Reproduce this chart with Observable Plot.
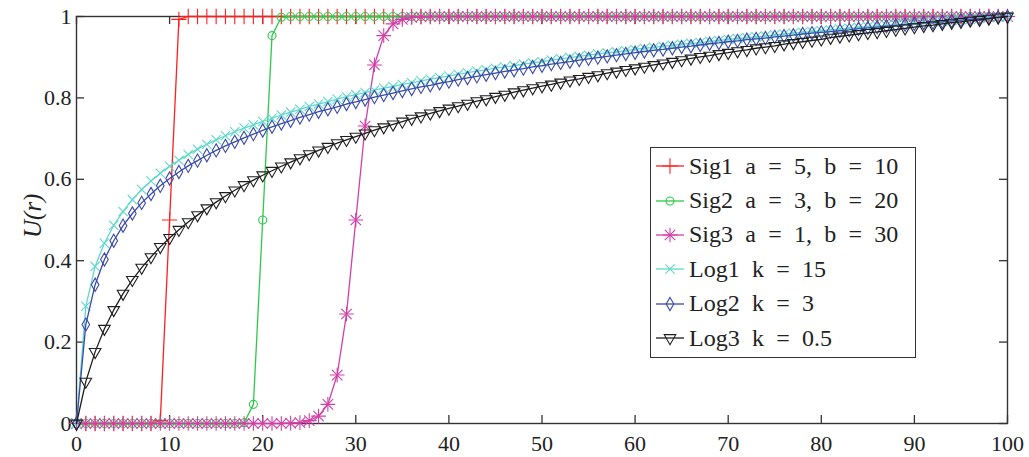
<!DOCTYPE html>
<html><head><meta charset="utf-8">
<script src="https://cdn.jsdelivr.net/npm/d3@7"></script>
<script src="https://cdn.jsdelivr.net/npm/@observablehq/plot@0.6"></script>
<style>
html,body{margin:0;padding:0;background:#fff;}
#wrap{position:relative;width:1029px;height:457px;overflow:hidden;background:#fff;}
#legend{position:absolute;left:650px;top:147px;width:266px;height:211px;border:1.5px solid #333;background:#fff;
  font-family:"Liberation Serif","Times New Roman",Times,serif;font-size:24px;color:#222;box-sizing:border-box;padding-top:1px;}
.row{display:flex;align-items:center;height:34.4px;}
.row svg{flex:none;display:block;}
.row span{white-space:pre;word-spacing:0.26em;margin-left:2px;}
</style></head>
<body><div id="wrap"></div>
<script>
const r = [0,1,2,3,4,5,6,7,8,9,10,11,12,13,14,15,16,17,18,19,20,21,22,23,24,25,26,27,28,29,30,31,32,33,34,35,36,37,38,39,40,41,42,43,44,45,46,47,48,49,50,51,52,53,54,55,56,57,58,59,60,61,62,63,64,65,66,67,68,69,70,71,72,73,74,75,76,77,78,79,80,81,82,83,84,85,86,87,88,89,90,91,92,93,94,95,96,97,98,99,100];
const sig1 = [0,0,0,0,0,0,0,0,0,0.007,
  0.5,0.993,1,1,1,1,1,1,1,1,
  1,1,1,1,1,1,1,1,1,1, 1,1,1,1,1,1,1,1,1,1, 1,1,1,1,1,1,1,1,1,1, 1,1,1,1,1,1,1,1,1,1,
  1,1,1,1,1,1,1,1,1,1, 1,1,1,1,1,1,1,1,1,1, 1,1,1,1,1,1,1,1,1,1, 1,1,1,1,1,1,1,1,1,1, 1];
const sig2 = [0,0,0,0,0,0,0,0,0,0,
  0,0,0,0,0,0,0,0,0.002,0.047,
  0.5,0.953,0.998,1,1,1,1,1,1,1,
  1,1,1,1,1,1,1,1,1,1, 1,1,1,1,1,1,1,1,1,1, 1,1,1,1,1,1,1,1,1,1, 1,1,1,1,1,1,1,1,1,1,
  1,1,1,1,1,1,1,1,1,1, 1,1,1,1,1,1,1,1,1,1, 1,1,1,1,1,1,1,1,1,1, 1];
const sig3 = [0,0,0,0,0,0,0,0,0,0,
  0,0,0,0,0,0,0,0,0,0,
  0,0,0,0.001,0.002,0.007,0.018,0.047,0.119,0.269,
  0.5,0.731,0.881,0.953,0.982,0.993,0.998,0.999,1,1,
  1,1,1,1,1,1,1,1,1,1, 1,1,1,1,1,1,1,1,1,1, 1,1,1,1,1,1,1,1,1,1,
  1,1,1,1,1,1,1,1,1,1, 1,1,1,1,1,1,1,1,1,1, 1,1,1,1,1,1,1,1,1,1, 1];
const log1 = [0,0.288,0.386,0.443,0.487,0.521,0.550,0.575,0.596,0.615,
  0.632,0.647,0.661,0.674,0.686,0.697,0.707,0.717,0.726,0.734,
  0.742,0.750,0.758,0.765,0.772,0.779,0.785,0.791,0.797,0.803,
  0.808,0.813,0.819,0.824,0.828,0.833,0.837,0.842,0.846,0.850,
  0.854,0.858,0.862,0.866,0.869,0.873,0.876,0.879,0.883,0.886,
  0.889,0.893,0.896,0.899,0.902,0.905,0.908,0.911,0.913,0.916,
  0.919,0.922,0.924,0.927,0.929,0.932,0.934,0.936,0.939,0.941,
  0.944,0.946,0.948,0.950,0.952,0.955,0.957,0.959,0.961,0.963,
  0.965,0.967,0.969,0.971,0.973,0.975,0.977,0.978,0.980,0.982,
  0.984,0.985,0.987,0.988,0.990,0.992,0.993,0.995,0.997,0.998,1];
const log2 = [0,0.243,0.341,0.403,0.449,0.486,0.516,0.542,0.564,0.584,
  0.602,0.618,0.633,0.646,0.659,0.671,0.682,0.692,0.702,0.711,
  0.720,0.729,0.737,0.744,0.752,0.759,0.766,0.772,0.778,0.785,
  0.790,0.796,0.802,0.807,0.812,0.817,0.822,0.827,0.831,0.836,
  0.840,0.845,0.849,0.853,0.857,0.861,0.865,0.868,0.872,0.876,
  0.879,0.883,0.886,0.889,0.893,0.896,0.899,0.902,0.905,0.908,
  0.911,0.914,0.917,0.919,0.922,0.925,0.927,0.930,0.933,0.935,
  0.938,0.940,0.943,0.945,0.947,0.950,0.952,0.954,0.957,0.959,
  0.961,0.963,0.965,0.967,0.970,0.972,0.974,0.976,0.978,0.980,
  0.982,0.984,0.985,0.987,0.989,0.991,0.993,0.995,0.996,0.998,1];
const log3 = [0,0.103,0.176,0.233,0.279,0.319,0.353,0.383,0.409,0.434,
  0.456,0.476,0.495,0.512,0.529,0.544,0.559,0.573,0.586,0.598,
  0.610,0.621,0.632,0.642,0.652,0.662,0.671,0.680,0.689,0.697,
  0.705,0.713,0.721,0.728,0.735,0.742,0.749,0.755,0.762,0.768,
  0.774,0.780,0.786,0.792,0.797,0.803,0.808,0.814,0.819,0.824,
  0.829,0.833,0.838,0.843,0.847,0.852,0.856,0.861,0.865,0.869,
  0.873,0.877,0.881,0.885,0.889,0.893,0.897,0.901,0.904,0.908,
  0.911,0.915,0.918,0.922,0.925,0.928,0.932,0.935,0.938,0.941,
  0.944,0.948,0.951,0.954,0.957,0.960,0.962,0.965,0.968,0.971,
  0.974,0.977,0.979,0.982,0.985,0.987,0.990,0.992,0.995,0.998,1];

const names = ["Sig1 a = 5, b = 10","Sig2 a = 3, b = 20","Sig3 a = 1, b = 30","Log1 k = 15","Log2 k = 3","Log3 k = 0.5"];
const colors = ["#ff1f1f","#2ec94a","#d23ea8","#5fd8cb","#3a4aa8","#1e1e1e"];
const xTicks = [0,10,20,30,40,50,60,70,80,90,100];
const yTicks = [0,0.2,0.4,0.6,0.8,1];
const yLabel = "U(r)";

const series = [sig1, sig2, sig3, log1, log2, log3];
const symbols = [["plus"],["circle"],["plus","times"],["times"],["diamond"],["triangle"]];
const radii = [5, 4, 4.8, 4.3, 4, 4.3];
const rot = [0,0,0,0,0,180];

const W = 1029, H = 457, mL = 76, mR = 22, mT = 16, mB = 34;
const pw = W - mL - mR, ph = H - mT - mB, tk = 8;
const serif = "'Liberation Serif', 'Times New Roman', Times, serif";

const marks = [
  Plot.frame({stroke: "#333", strokeWidth: 1.4}),
  Plot.tickX(xTicks, {x: d => d, insetTop: ph - tk, stroke: "#333", strokeWidth: 1.3}),
  Plot.tickX(xTicks, {x: d => d, insetBottom: ph - tk, stroke: "#333", strokeWidth: 1.3}),
  Plot.tickY(yTicks, {y: d => d, insetRight: pw - tk, stroke: "#333", strokeWidth: 1.3}),
  Plot.tickY(yTicks, {y: d => d, insetLeft: pw - tk, stroke: "#333", strokeWidth: 1.3}),
  Plot.axisX({ticks: xTicks, tickSize: 0, tickPadding: 12, label: null, tickFormat: d => String(d), fontFamily: serif}),
  Plot.axisY({ticks: yTicks, tickSize: 0, tickPadding: 5, label: null, tickFormat: d => String(d), fontFamily: serif}),
  Plot.text([yLabel], {text: d => d, frameAnchor: "left", dx: -44, dy: 18, rotate: -90, fontStyle: "italic", fontSize: 25, fill: "#222", fontFamily: serif})
];
series.forEach((vals, i) => {
  marks.push(Plot.line(r, {x: r, y: vals, stroke: colors[i], strokeWidth: 1.3}));
  symbols[i].forEach(s => marks.push(Plot.dot(r, {x: r, y: vals, symbol: s, r: radii[i], stroke: colors[i], fill: "none", strokeWidth: 1.1, rotate: rot[i]})));
});

const chart = Plot.plot({
  width: W, height: H,
  marginLeft: mL, marginRight: mR, marginTop: mT, marginBottom: mB,
  x: {domain: [0, 100]},
  y: {domain: [0, 1]},
  style: {fontFamily: serif, fontSize: "22px", background: "white", color: "#222", overflow: "visible"},
  marks
});
const wrap = document.getElementById("wrap");
wrap.appendChild(chart);

// legend
const symMap = {plus: d3.symbolPlus, circle: d3.symbolCircle, times: d3.symbolTimes, diamond: d3.symbolDiamond, triangle: d3.symbolTriangle};
const legend = document.createElement("div");
legend.id = "legend";
names.forEach((name, i) => {
  const row = document.createElement("div");
  row.className = "row";
  const svg = d3.create("svg").attr("width", 36).attr("height", 30);
  svg.append("line").attr("x1", 5).attr("x2", 33).attr("y1", 15).attr("y2", 15).attr("stroke", colors[i]).attr("stroke-width", 1.3);
  symbols[i].forEach(s => {
    svg.append("path").attr("d", d3.symbol(symMap[s], radii[i] * radii[i] * Math.PI)())
      .attr("transform", `translate(19,15) rotate(${rot[i]})`)
      .attr("fill", "none").attr("stroke", colors[i]).attr("stroke-width", 1.1);
  });
  row.appendChild(svg.node());
  const span = document.createElement("span");
  span.textContent = name;
  row.appendChild(span);
  legend.appendChild(row);
});
wrap.appendChild(legend);
</script></body></html>
